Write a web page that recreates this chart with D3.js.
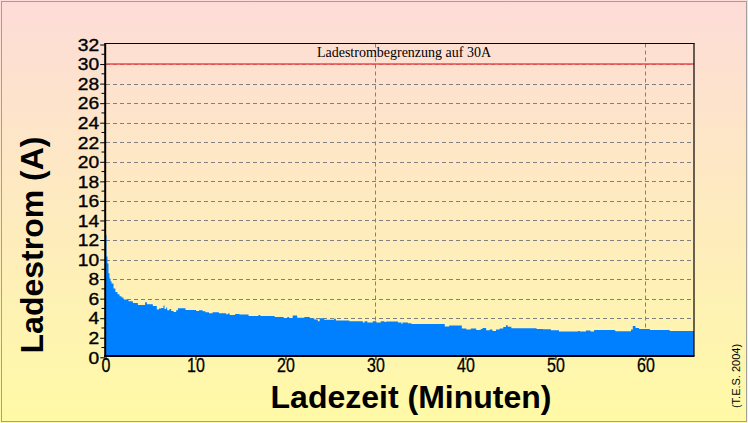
<!DOCTYPE html>
<html><head><meta charset="utf-8">
<script src="https://cdn.jsdelivr.net/npm/d3@7"></script>
<style>html,body{margin:0;padding:0;background:#fff;}svg{display:block;}</style>
</head><body>
<script>
// Data (segment start time in minutes, charging current in A)
const minutes = [0.0,0.11,0.22,0.33,0.44,0.56,0.67,0.89,1.1,1.33,1.56,1.78,2.0,2.56,3.04,3.6,4.4,4.6,5.26,5.7,5.93,6.19,6.44,6.56,6.74,6.85,7.11,7.3,7.56,7.85,8.04,8.89,10.07,10.4,10.8,11.1,11.5,11.9,12.6,13.4,13.6,13.8,14.4,14.9,15.9,17.0,17.2,18.8,19.8,20.2,20.4,20.8,21.3,22.1,22.7,23.2,23.6,23.8,24.3,25.4,25.6,27.1,28.6,28.8,29.1,29.7,30.1,30.6,31.0,31.2,32.5,32.9,33.0,33.6,34.0,37.7,38.2,39.6,40.1,40.6,41.2,41.7,41.9,42.3,42.7,43.0,43.4,43.8,44.2,44.5,44.7,45.1,47.9,48.6,49.5,50.4,52.5,52.7,53.4,53.9,54.3,56.6,56.7,58.4,58.6,58.9,59.3,60.5,62.7];
const current = [12.5,10.3,9.6,8.6,8.06,7.78,7.54,7.03,6.69,6.45,6.25,6.11,5.91,5.73,5.56,5.36,5.63,5.43,5.26,4.88,4.98,5.05,5.29,4.95,5.09,4.81,4.95,4.74,4.64,4.81,5.02,4.85,4.74,4.81,4.71,4.61,4.5,4.61,4.5,4.4,4.47,4.33,4.43,4.37,4.23,4.33,4.23,4.13,4.03,4.13,4.03,4.28,4.05,4.13,3.99,3.86,3.7,3.99,3.83,3.95,3.77,3.7,3.55,3.69,3.55,3.69,3.55,3.69,3.6,3.65,3.55,3.4,3.55,3.48,3.4,3.15,3.25,2.94,2.85,2.94,2.8,2.9,3.0,2.77,2.85,2.7,2.85,2.94,3.1,3.28,3.12,2.97,2.9,2.87,2.77,2.63,2.7,2.63,2.73,2.63,2.8,2.72,2.66,2.85,3.2,3.0,2.9,2.8,2.7];
const xMax = 65.4;
const yTicks = [0,2,4,6,8,10,12,14,16,18,20,22,24,26,28,30,32];
const xTicks = [0,10,20,30,40,50,60];
const limitValue = 30;
const limitLabel = "Ladestrombegrenzung auf 30A";
const xTitle = "Ladezeit (Minuten)";
const yTitle = "Ladestrom (A)";
const credit = "(T.E.S. 2004)";

const W = 748, H = 423;
const svg = d3.select("body").append("svg").attr("width", W).attr("height", H);
const defs = svg.append("defs");
const g = defs.append("linearGradient").attr("id","bg").attr("x1",0).attr("y1",0).attr("x2",0).attr("y2",1);
g.append("stop").attr("offset","0%").attr("stop-color","#fddcd8");
g.append("stop").attr("offset","100%").attr("stop-color","#fffaa6");
svg.append("rect").attr("width",W).attr("height",H).attr("fill","url(#bg)");
svg.append("rect").attr("x",1.5).attr("y",1.5).attr("width",W-3).attr("height",H-3)
  .attr("fill","none").attr("stroke","#a0a0a0").attr("stroke-width",1);

const x = d3.scaleLinear().domain([0, xMax]).range([105.5, 694]);
const y = d3.scaleLinear().domain([0, 32]).range([357.3, 44.5]);
const L = 106, R = 694, T = 43.5, B = 356;

// gridlines
const grid = svg.append("g");
grid.selectAll("line.h").data(yTicks.filter(d => d > 0 && d < 32)).join("line")
  .attr("x1", L).attr("x2", R).attr("y1", d => Math.round(y(d)) + 0.5).attr("y2", d => Math.round(y(d)) + 0.5)
  .attr("stroke","#808080").attr("stroke-dasharray","4,3").attr("stroke-width",1);
grid.selectAll("line.v").data([30,60]).join("line")
  .attr("x1", d => Math.round(x(d)) + 0.5).attr("x2", d => Math.round(x(d)) + 0.5).attr("y1", T).attr("y2", B)
  .attr("stroke","#808080").attr("stroke-dasharray","4,3").attr("stroke-width",1);

// data area
const pts = minutes.map((t,i) => [t, current[i]]);
pts.push([xMax, current[current.length-1]]);
const area = d3.area().curve(d3.curveStepAfter)
  .x(d => x(d[0])).y0(B).y1(d => y(d[1]));
svg.append("path").datum(pts).attr("d", area).attr("fill","#0080ff");

// limit line
svg.append("line").attr("x1", L).attr("x2", R).attr("y1", y(limitValue)).attr("y2", y(limitValue))
  .attr("stroke","#f04848").attr("stroke-width",1.6);
svg.append("text").attr("x", 404).attr("y", 57).attr("text-anchor","middle")
  .attr("font-family","'Liberation Serif','Times New Roman',serif").attr("font-size",14).attr("fill","#000")
  .text(limitLabel);

// frame
svg.append("line").attr("x1",L-1).attr("x2",R+0.5).attr("y1",43.5).attr("y2",43.5).attr("stroke","#000").attr("stroke-width",1);
svg.append("line").attr("x1",R).attr("x2",R).attr("y1",43).attr("y2",B).attr("stroke","#000").attr("stroke-width",1.2);

// y axis
const yAxis = svg.append("g").attr("transform","translate(105.2,0)")
  .call(d3.axisLeft(y).tickValues(yTicks).tickSize(5).tickSizeOuter(0).tickFormat(d3.format("d")));
yAxis.select(".domain").remove();
yAxis.selectAll("text").attr("x",0).attr("dy","0.36em")
  .attr("transform","translate(-6,0) scale(1.2,1)")
  .attr("font-family","'Liberation Sans',Arial,sans-serif").attr("font-size",16).attr("fill","#000")
  .attr("stroke","#000").attr("stroke-width",0.35);
svg.append("g").selectAll("line").data(d3.range(1,32,2)).join("line")
  .attr("x1",101.5).attr("x2",105).attr("y1",d=>y(d)).attr("y2",d=>y(d)).attr("stroke","#000");
svg.append("line").attr("x1",105.2).attr("x2",105.2).attr("y1",43).attr("y2",357).attr("stroke","#000").attr("stroke-width",2);

// x axis
const xAxis = svg.append("g").attr("transform",`translate(0,${B})`)
  .call(d3.axisBottom(x).tickValues(xTicks).tickSize(4).tickSizeOuter(0).tickFormat(d3.format("d")));
xAxis.select(".domain").remove();
xAxis.selectAll("text").attr("y",0).attr("dy","0")
  .attr("transform","translate(0,16) scale(0.8,1)")
  .attr("font-family","'Liberation Sans',Arial,sans-serif").attr("font-size",20).attr("fill","#000")
  .attr("stroke","#000").attr("stroke-width",0.3);
svg.append("line").attr("x1",104).attr("x2",R+0.5).attr("y1",B).attr("y2",B).attr("stroke","#000").attr("stroke-width",2);

// titles
svg.append("text").attr("x",411).attr("y",408).attr("text-anchor","middle")
  .attr("font-family","'Liberation Sans',Arial,sans-serif").attr("font-weight","bold").attr("font-size",32)
  .text(xTitle);
svg.append("text").attr("transform","translate(43,245) rotate(-90)").attr("text-anchor","middle")
  .attr("font-family","'Liberation Sans',Arial,sans-serif").attr("font-weight","bold").attr("font-size",32)
  .text(yTitle);
svg.append("text").attr("transform","translate(740,376) rotate(-90)").attr("text-anchor","middle")
  .attr("font-family","'Liberation Sans',Arial,sans-serif").attr("font-size",11)
  .text(credit);
</script>
</body></html>
